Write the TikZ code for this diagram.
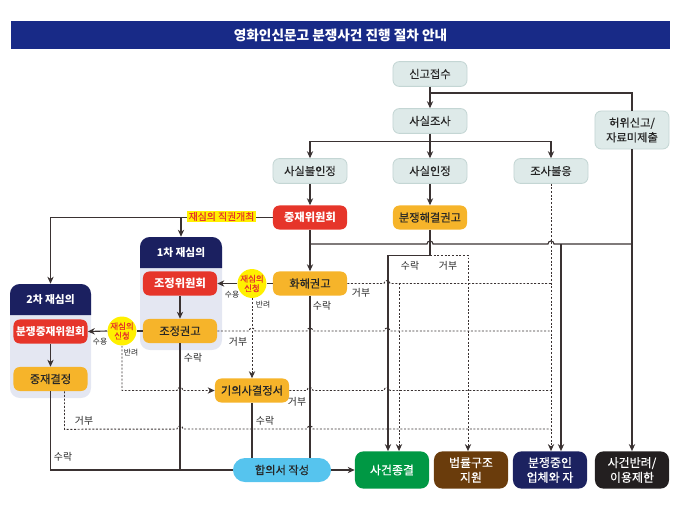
\documentclass[tikz,border=0pt]{standalone}
\usepackage{fontspec}
\setmainfont{Noto Sans CJK KR}
\newfontfamily\boxfam{Noto Sans CJK KR}[FakeBold=0.3]
\usetikzlibrary{arrows.meta}
\definecolor{titleblue}{RGB}{24,42,135}
\definecolor{boxgrey}{RGB}{222,234,233}
\definecolor{boxgreyline}{RGB}{196,214,212}
\definecolor{boxred}{RGB}{230,53,42}
\definecolor{boxorange}{RGB}{246,180,42}
\definecolor{panelhead}{RGB}{27,32,96}
\definecolor{panelbody}{RGB}{228,231,242}
\definecolor{circleyellow}{RGB}{255,240,0}
\definecolor{boxsky}{RGB}{86,196,238}
\definecolor{boxgreen}{RGB}{0,152,68}
\definecolor{boxbrown}{RGB}{106,60,12}
\definecolor{boxnavy}{RGB}{28,34,96}
\definecolor{boxblack}{RGB}{35,31,32}
\definecolor{linedark}{RGB}{58,50,50}
\tikzset{
  basebox/.style={rounded corners=4.5pt, minimum width=1.85cm, minimum height=0.6cm,
    inner sep=0pt, align=center, font=\boxfam\fontsize{8}{9.5}\selectfont},
  greybox/.style={basebox, fill=boxgrey, draw=boxgreyline, line width=0.6pt,
    text=black!85, minimum height=0.62cm},
  redbox/.style={basebox, fill=boxred, text=white, font=\bfseries\fontsize{8}{9.5}\selectfont},
  orangebox/.style={basebox, fill=boxorange, text=black!85},
  endbox/.style={basebox, rounded corners=6pt, minimum height=0.93cm, text=white,
    font=\boxfam\fontsize{8.5}{10.5}\selectfont},
  askcircle/.style={circle, fill=circleyellow, minimum size=0.65cm, inner sep=0pt,
    text=boxred, align=center, font=\boxfam\fontsize{6}{6.8}\selectfont},
  headtext/.style={minimum width=2.05cm, minimum height=0.775cm, inner sep=0pt,
    text=white, font=\bfseries\fontsize{7.6}{9}\selectfont},
  link/.style={draw=linedark, line width=0.8pt},
  dotlink/.style={draw=linedark, line width=0.7pt, dash pattern=on 1.4pt off 1.2pt},
  arr/.style={-{Stealth[length=5pt,width=4.5pt]}},
  lbl/.style={inner sep=0pt, text=black!85, font=\fontsize{7}{8}\selectfont},
  smalllbl/.style={inner sep=0pt, text=black!85, font=\fontsize{5.5}{6}\selectfont},
}
\begin{document}
\begin{tikzpicture}[x=0.025cm,y=-0.025cm]
\useasboundingbox (0,0) rectangle (680,520);
% title
\node[fill=titleblue, minimum width=16.45cm, minimum height=0.7cm, inner sep=0pt,
  text=white, font=\bfseries\fontsize{9.7}{11}\selectfont] (title) at (340.5,35)
  {영화인신문고 분쟁사건 진행 절차 안내};
% review panels
\fill[panelbody, rounded corners=7pt] (140,237) rectangle (222,350);
\fill[panelhead] (140,268) [rounded corners=7pt] -- (140,237) -- (222,237) [sharp corners] -- (222,268) -- cycle;
\node[headtext] (p1) at (181,252.5) {1차 재심의};
\fill[panelbody, rounded corners=7pt] (10,284) rectangle (91,398);
\fill[panelhead] (10,315) [rounded corners=7pt] -- (10,284) -- (91,284) [sharp corners] -- (91,315) -- cycle;
\node[headtext] (p2) at (50.5,299.5) {2차 재심의};
% boxes
\node[greybox] (report) at (430,74) {신고접수};
\node[greybox] (survey) at (430,121) {사실조사};
\node[greybox] (notfact) at (310,171) {사실불인정};
\node[greybox] (fact) at (430,171) {사실인정};
\node[greybox] (refuse) at (551,171) {조사불응};
\node[greybox, minimum height=0.95cm, font=\boxfam\fontsize{8}{10.5}\selectfont] (false) at (632,130) {허위신고/\\자료미제출};
\node[redbox] (arbcom) at (310,217.5) {중재위원회};
\node[orangebox] (advice) at (430,217.5) {분쟁해결권고};
\node[orangebox] (concil) at (310,283.5) {화해권고};
\node[redbox] (medcom) at (180,283.5) {조정위원회};
\node[orangebox] (medrec) at (180,331) {조정권고};
\node[redbox, font=\bfseries\fontsize{7.6}{9}\selectfont] (disarb) at (50.5,331.5) {분쟁중재위원회};
\node[orangebox] (arbdec) at (50.5,379) {중재결정};
\node[orangebox] (intent) at (252,390.5) {기의사결정서};
\node[basebox, fill=boxsky, text=black!85, rounded corners=0.3cm, minimum width=2.45cm] (agree) at (282,470) {합의서 작성};
\node[endbox, fill=boxgreen] (closed) at (392,470) {사건종결};
\node[endbox, fill=boxbrown] (legal) at (471,470) {법률구조\\지원};
\node[endbox, fill=boxnavy] (firm) at (550,470) {분쟁중인\\업체와 자};
\node[endbox, fill=boxblack] (reject) at (632,470) {사건반려/\\이용제한};
\node[askcircle] (ask1) at (252,283.5) {재심의\\신청};
\node[askcircle] (ask2) at (122,331) {재심의\\신청};
\coordinate (busR) at (561,244);
\coordinate (dropC) at ([xshift=0.175cm]closed.north);
% investigation
\draw[link,arr] (report) -- (survey);
\draw[link] (report.south) -- (report.south |- 0,93) -| (false.north);
\draw[link,arr] (survey.south) -- ++(0,7.6) -| (notfact.north);
\draw[link,arr] (survey.south) -- ++(0,7.6) -| (refuse.north);
\draw[link,arr] (survey) -- (fact);
\draw[link,arr] (notfact) -- (arbcom);
\draw[link,arr] (fact) -- (advice);
\draw[link,arr] (arbcom) -- (concil);
\draw[link] (arbcom.south |- busR) -- (427,244) arc[start angle=180,end angle=0,radius=0.075cm]
  -- (548,244) arc[start angle=180,end angle=0,radius=0.075cm] -- (false.south |- busR);
\draw[link,arr] (false) -- (reject);
\draw[link,arr] (busR) -- (busR |- firm.north);
\draw[dotlink,arr] (refuse) -- (refuse |- firm.north);
% dispute advice
\draw[link,arr] (advice.south) -- ++(0,25.5) -| ([xshift=-0.1cm]closed.north);
\draw[dotlink,arr] (advice.south) ++(0,25.5) -| ([xshift=-0.075cm]legal.north);
\node[lbl] (ok0) at (410,266) {수락};
\node[lbl] (no0) at (448,266) {거부};
% refusals
\draw[dotlink] (concil.east) -- (384,283.5) arc[start angle=180,end angle=0,radius=0.075cm] -- (refuse |- concil.east);
\draw[dotlink,arr] (dropC |- concil.east) -- (dropC);
\draw[dotlink] (medrec.east) -- (249,331) arc[start angle=180,end angle=0,radius=0.075cm]
  -- (307,331) arc[start angle=180,end angle=0,radius=0.075cm]
  -- (384,331) arc[start angle=180,end angle=0,radius=0.075cm] -- (refuse |- medrec.east);
\draw[dotlink] (intent.east) -- (307,390.5) arc[start angle=180,end angle=0,radius=0.075cm]
  -- (384,390.5) arc[start angle=180,end angle=0,radius=0.075cm] -- (refuse |- intent.east);
\draw[dotlink] ([xshift=0.35cm]arbdec.south) -- ++(0,38) -- (177,429) arc[start angle=180,end angle=0,radius=0.075cm]
  -- (307,429) arc[start angle=180,end angle=0,radius=0.075cm] -- (refuse |- 0,429);
\node[lbl] (no1) at (361,293) {거부};
\node[lbl] (no2) at (238,341.5) {거부};
\node[lbl] (no3) at (297,402) {거부};
\node[lbl] (no4) at (84,421) {거부};
% acceptances
\draw[link] (concil) -- (concil |- agree.north);
\draw[link] (intent) -- (intent |- agree.north);
\draw[link] (arbdec) -- (arbdec |- agree.west) -- (agree.west);
\draw[link] (medrec) -- (medrec |- agree.west);
\draw[link,arr] (agree) -- (closed);
\node[lbl] (ok1) at (322,306) {수락};
\node[lbl] (ok2) at (193,358) {수락};
\node[lbl] (ok3) at (265,421) {수락};
\node[lbl] (ok4) at (63,457) {수락};
% re-examination
\draw[link,arr] (arbcom.west) -- (arbcom.west -| p2.north) -- (p2.north);
\draw[link,arr] (arbcom.west -| p1.north) -- (p1.north);
\node[fill=circleyellow, text=boxred, inner sep=0pt, minimum width=1.7cm, minimum height=0.29cm,
  font=\boxfam\fontsize{7}{8}\selectfont] (selfopen) at (221.5,216.5) {재심의 직권개최};
\draw[link,arr] (medcom) -- (medrec);
\draw[link,arr] (disarb) -- (arbdec);
\draw[link] (concil.west) -- (ask1.east);
\draw[link,arr] (ask1.west) -- (medcom.east);
\draw[dotlink,arr] (ask1.south) -- (intent.north);
\draw[link] (medrec.west) -- (ask2.east);
\draw[link,arr] (ask2.west) -- (disarb.east);
\draw[dotlink,arr] (ask2.south) -- (ask2 |- intent.west) -- (177,390.5) arc[start angle=180,end angle=0,radius=0.075cm] -- (intent.west);
\node[smalllbl] (yes1) at (232,294.5) {수용};
\node[smalllbl] (back1) at (263,304.5) {반려};
\node[smalllbl] (yes2) at (100,342) {수용};
\node[smalllbl] (back2) at (131,353) {반려};
\end{tikzpicture}
\end{document}
